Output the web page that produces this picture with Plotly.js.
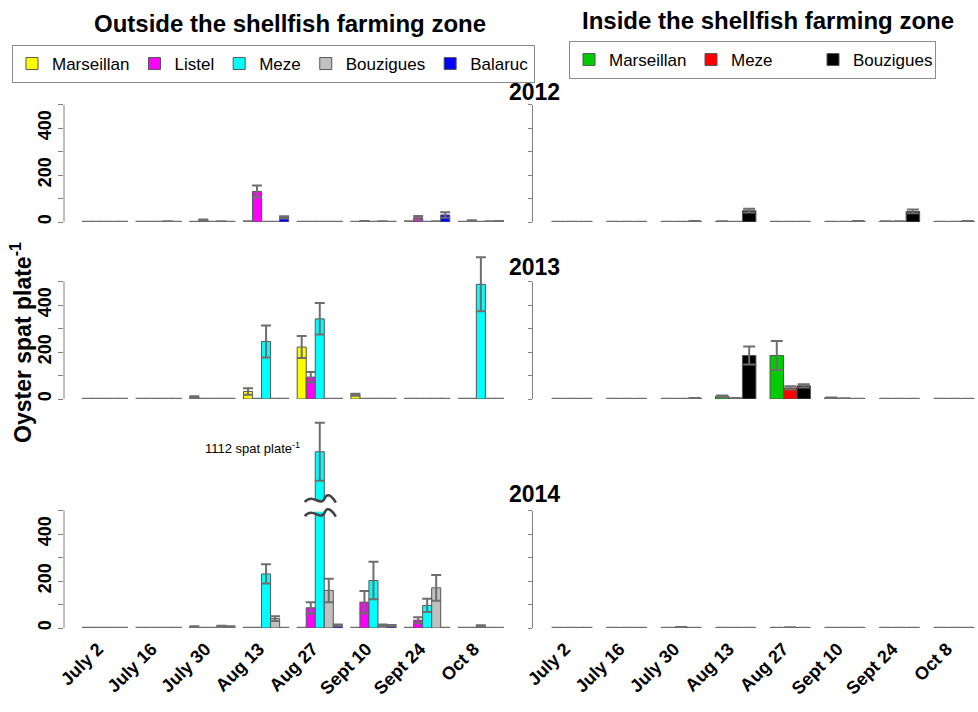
<!DOCTYPE html>
<html><head><meta charset="utf-8">
<script src="https://cdn.plot.ly/plotly-3.0.1.min.js"></script>
<style>html,body{margin:0;padding:0;background:#fff}#chart{width:978px;height:712px}</style>
</head><body><div id="chart"></div>
<script>
// ---------------- DATA ----------------
const dates = ['July 2','July 16','July 30','Aug 13','Aug 27','Sept 10','Sept 24','Oct 8'];
const years = ['2012','2013','2014'];
const outsideSites = ['Marseillan','Listel','Meze','Bouzigues','Balaruc'];
const insideSites = ['Marseillan','Meze','Bouzigues'];

// Outside the shellfish farming zone — means (spat plate-1)
const o12_Marseillan = [1,1,1,2,1,1,2,1];
const o12_Listel     = [1,1,8,130,1,3,18,5];
const o12_Meze       = [1,1,1,1,1,1,1,1];
const o12_Bouzigues  = [1,2,2,1,1,2,2,2];
const o12_Balaruc    = [1,1,1,20,1,1,30,3];
const o13_Marseillan = [1,1,8,32,221,18,1,1];
const o13_Listel     = [1,1,1,1,93,1,1,1];
const o13_Meze       = [1,1,1,245,341,1,1,488];
const o13_Bouzigues  = [1,1,1,1,1,1,1,1];
const o13_Balaruc    = [1,1,1,1,1,1,1,1];
const o14_Marseillan = [1,1,5,1,1,1,1,1];
const o14_Listel     = [1,1,1,1,86,110,33,1];
const o14_Meze       = [1,1,1,230,1112,202,96,8];
const o14_Bouzigues  = [1,1,8,40,160,12,171,1];
const o14_Balaruc    = [1,1,5,1,12,10,1,1];
// standard errors
const o12_Marseillan_err = [0,0,0,1,0,0,1,0];
const o12_Listel_err     = [0,0,3,25,0,1,8,2];
const o12_Meze_err       = [0,0,0,0,0,0,0,0];
const o12_Bouzigues_err  = [0,1,1,0,0,1,1,1];
const o12_Balaruc_err    = [0,0,0,5,0,0,12,1];
const o13_Marseillan_err = [0,0,4,14,47,4,0,0];
const o13_Listel_err     = [0,0,0,0,22,0,0,0];
const o13_Meze_err       = [0,0,0,68,67,0,0,115];
const o13_Bouzigues_err  = [0,0,0,0,0,0,0,0];
const o13_Balaruc_err    = [0,0,0,0,0,0,0,0];
const o14_Marseillan_err = [0,0,2,0,0,0,0,0];
const o14_Listel_err     = [0,0,0,0,24,47,13,0];
const o14_Meze_err       = [0,0,0,41,123,80,28,4];
const o14_Bouzigues_err  = [0,0,2,10,50,3,55,0];
const o14_Balaruc_err    = [0,0,2,0,3,3,0,0];

// Inside the shellfish farming zone
const i12_Marseillan = [1,1,1,2,1,1,2,1];
const i12_Meze       = [1,1,1,1,1,1,2,1];
const i12_Bouzigues  = [1,1,3,48,1,3,45,3];
const i13_Marseillan = [1,1,1,12,185,5,1,1];
const i13_Meze       = [1,1,1,3,47,2,1,1];
const i13_Bouzigues  = [1,1,3,185,56,1,1,1];
const i14_Marseillan = [1,1,1,1,1,1,1,1];
const i14_Meze       = [1,1,3,1,2,1,1,1];
const i14_Bouzigues  = [1,1,1,1,1,1,1,1];
const i12_Marseillan_err = [0,0,0,1,0,0,1,0];
const i12_Meze_err       = [0,0,0,0,0,0,1,0];
const i12_Bouzigues_err  = [0,0,1,8,0,1,8,1];
const i13_Marseillan_err = [0,0,0,3,62,1,0,0];
const i13_Meze_err       = [0,0,0,1,7,1,0,0];
const i13_Bouzigues_err  = [0,0,1,38,7,0,0,0];
const i14_Marseillan_err = [0,0,0,0,0,0,0,0];
const i14_Meze_err       = [0,0,1,0,1,0,0,0];
const i14_Bouzigues_err  = [0,0,0,0,0,0,0,0];

// ---------------- BUILD ----------------
const outColors = ['#ffff00','#ff00ff','#00ffff','#c0c0c0','#0000ff'];
const inColors  = ['#00cc00','#ff0000','#000000'];
const outVals = [
  [o12_Marseillan,o12_Listel,o12_Meze,o12_Bouzigues,o12_Balaruc],
  [o13_Marseillan,o13_Listel,o13_Meze,o13_Bouzigues,o13_Balaruc],
  [o14_Marseillan,o14_Listel,o14_Meze,o14_Bouzigues,o14_Balaruc]];
const outErrs = [
  [o12_Marseillan_err,o12_Listel_err,o12_Meze_err,o12_Bouzigues_err,o12_Balaruc_err],
  [o13_Marseillan_err,o13_Listel_err,o13_Meze_err,o13_Bouzigues_err,o13_Balaruc_err],
  [o14_Marseillan_err,o14_Listel_err,o14_Meze_err,o14_Bouzigues_err,o14_Balaruc_err]];
const inVals = [
  [i12_Marseillan,i12_Meze,i12_Bouzigues],
  [i13_Marseillan,i13_Meze,i13_Bouzigues],
  [i14_Marseillan,i14_Meze,i14_Bouzigues]];
const inErrs = [
  [i12_Marseillan_err,i12_Meze_err,i12_Bouzigues_err],
  [i13_Marseillan_err,i13_Meze_err,i13_Bouzigues_err],
  [i14_Marseillan_err,i14_Meze_err,i14_Bouzigues_err]];

// broken axis: values above BREAK_AT are drawn shifted down by BREAK_SHIFT
const BREAK_AT = 600, BREAK_SHIFT = 362;
const shown = v => v > BREAK_AT ? v - BREAK_SHIFT : v;

const W = 978, H = 712, PX = 0.235;
const zeroPx = [222, 399, 628];
const leftTops = [500, 640, 900];
const ydom = (z, top) => [(H - z) / H, (H - (z - top * PX)) / H];
const idx = dates.map((d, i) => i);

const FONT = 'Liberation Sans, Arial, sans-serif';

const traces = [];
const oW = 0.168, iW = 0.247;
years.forEach((yr, yi) => {
  const xl = yi === 0 ? 'x' : 'x' + (2 * yi + 1);
  const yl = yi === 0 ? 'y' : 'y' + (2 * yi + 1);
  const xr = 'x' + (2 * yi + 2), yrr = 'y' + (2 * yi + 2);
  outsideSites.forEach((s, si) => {
    traces.push({
      type: 'bar', name: s, x: idx, y: outVals[yi][si].map(shown),
      xaxis: xl, yaxis: yl, width: oW, offset: -2.5 * oW + si * oW,
      marker: {color: outColors[si], line: {color: '#555555', width: 1}},
      error_y: {type: 'data', array: outErrs[yi][si], visible: true, color: '#6e6e6e', thickness: 2, width: 5},
      legend: 'legend', legendgroup: 'o' + s, showlegend: yi === 0, hoverinfo: 'skip'
    });
  });
  insideSites.forEach((s, si) => {
    traces.push({
      type: 'bar', name: s, x: idx, y: inVals[yi][si],
      xaxis: xr, yaxis: yrr, width: iW, offset: -1.5 * iW + si * iW,
      marker: {color: inColors[si], line: {color: '#555555', width: 1}},
      error_y: {type: 'data', array: inErrs[yi][si], visible: true, color: '#6e6e6e', thickness: 2, width: 6},
      legend: 'legend2', legendgroup: 'i' + s, showlegend: yi === 0, hoverinfo: 'skip'
    });
  });
});

const layout = {
  width: W, height: H, margin: {l: 0, r: 0, t: 0, b: 0},
  paper_bgcolor: '#fff', plot_bgcolor: 'rgba(0,0,0,0)',
  barmode: 'overlay', showlegend: true,
  legend: {orientation: 'h', x: 12 / W, y: 1 - 45 / H, xanchor: 'left', yanchor: 'top',
    bordercolor: '#8c8c8c', borderwidth: 1, font: {family: FONT, size: 17, color: '#000'},
    itemclick: false},
  legend2: {orientation: 'h', x: 569 / W, y: 1 - 41 / H, xanchor: 'left', yanchor: 'top',
    bordercolor: '#8c8c8c', borderwidth: 1, font: {family: FONT, size: 17, color: '#000'},
    entrywidth: 77, itemclick: false},
  shapes: [], annotations: []
};

const tickvals = [0, 100, 200, 300, 400, 500];
const ticktext = ['0', '', '200', '', '400', ''];
years.forEach((yr, yi) => {
  const nl = yi === 0 ? '' : String(2 * yi + 1);
  const nr = String(2 * yi + 2);
  const bottom = yi === 2;
  const xcommon = {type: 'linear', showline: false, zeroline: false, showgrid: false, ticks: '',
    tickvals: idx, ticktext: dates, showticklabels: bottom, tickangle: -45,
    ticklabelshift: -7, ticklabelstandoff: 6,
    tickfont: {family: FONT, size: 18, weight: 'bold', color: '#000'}};
  layout['xaxis' + nl] = Object.assign({}, xcommon, {domain: [64 / W, 512 / W], range: [-0.763, 7.58], anchor: 'y' + nl});
  layout['xaxis' + nr] = Object.assign({}, xcommon, {domain: [533 / W, 1], range: [-0.714, 7.44], anchor: 'y' + nr});
  layout['yaxis' + nl] = {domain: ydom(zeroPx[yi], leftTops[yi]), range: [0, leftTops[yi]], anchor: 'x' + nl,
    showline: false, zeroline: false, showgrid: false, ticks: 'outside', ticklen: 5, tickcolor: '#808080',
    tickvals: tickvals, ticktext: ticktext, tickangle: -90,
    tickfont: {family: FONT, size: 18, weight: 'bold', color: '#000'}};
  layout['yaxis' + nr] = {domain: ydom(zeroPx[yi], 500), range: [0, 500], anchor: 'x' + nr,
    showline: true, linecolor: '#808080', linewidth: 1, zeroline: false, showgrid: false,
    ticks: 'outside', ticklen: 4, tickcolor: '#808080', tickvals: tickvals, showticklabels: false};
  // left axis line only up to 500
  layout.shapes.push({type: 'line', xref: 'x' + nl + ' domain', yref: 'y' + nl,
    x0: 0, x1: 0, y0: 0, y1: 500, line: {color: '#808080', width: 1}});
  layout.annotations.push({text: yr, xref: 'paper', yref: 'paper', x: 534 / W, y: 1 - [92, 267, 494][yi] / H,
    xanchor: 'center', yanchor: 'middle', showarrow: false,
    font: {family: FONT, size: 23, weight: 'bold', color: '#000'}});
});

// break marks on the 2014 Meze bar at Aug 27
const bi = dates.indexOf('Aug 27');
const bx = bi - 2.5 * oW + 2 * oW + oW / 2;
layout.shapes.push({type: 'rect', xref: 'x5', yref: 'y5', x0: bx - oW / 2 - 0.02, x1: bx + oW / 2 + 0.02,
  y0: 495, y1: 542, fillcolor: '#ffffff', line: {width: 0}});
[548, 488].forEach(ym => {
  layout.shapes.push({type: 'path', xref: 'x5', yref: 'y5',
    path: `M ${bx - 0.28},${ym - 12} C ${bx - 0.12},${ym + 30} ${bx + 0.02},${ym - 40} ${bx + 0.1},${ym + 8} C ${bx + 0.16},${ym + 30} ${bx + 0.24},${ym + 8} ${bx + 0.3},${ym - 14}`,
    line: {color: '#444444', width: 2.5}});
});
layout.annotations.push({text: `${o14_Meze[bi]} spat plate<sup>-1</sup>`, xref: 'x5', yref: 'y5',
  x: bx, y: shown(o14_Meze[bi]) + 15, xanchor: 'right', yanchor: 'middle', xshift: -18, showarrow: false,
  font: {family: FONT, size: 13, color: '#000'}});

// titles
layout.annotations.push({text: 'Outside the shellfish farming zone', xref: 'paper', yref: 'paper',
  x: 290 / W, y: 1 - 23 / H, xanchor: 'center', yanchor: 'middle', showarrow: false,
  font: {family: FONT, size: 24, weight: 'bold', color: '#000'}});
layout.annotations.push({text: 'Inside the shellfish farming zone', xref: 'paper', yref: 'paper',
  x: 768 / W, y: 1 - 21 / H, xanchor: 'center', yanchor: 'middle', showarrow: false,
  font: {family: FONT, size: 24, weight: 'bold', color: '#000'}});
layout.annotations.push({text: 'Oyster spat plate<sup>-1</sup>', xref: 'paper', yref: 'paper',
  x: 21 / W, y: 1 - 343 / H, xanchor: 'center', yanchor: 'middle', textangle: -90, showarrow: false,
  font: {family: FONT, size: 23, weight: 'bold', color: '#000'}});

Plotly.newPlot('chart', traces, layout, {staticPlot: true});
</script></body></html>
